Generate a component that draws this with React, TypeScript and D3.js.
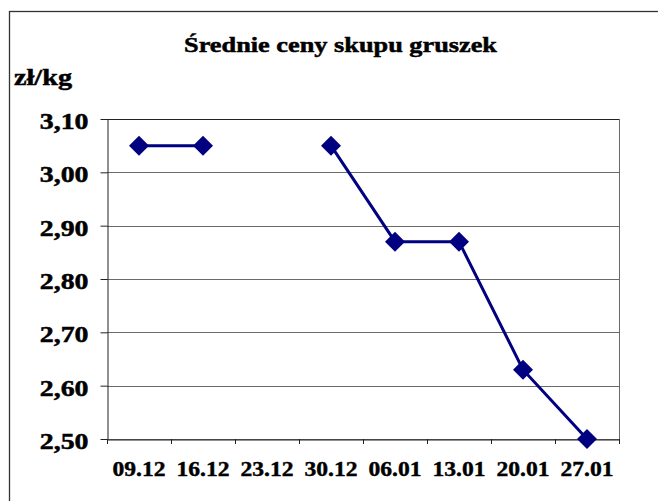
import { useEffect, useRef } from 'react';
import * as d3 from 'd3';

const title = 'Średnie ceny skupu gruszek';
const unitLabel = 'zł/kg';
const weeks = ['09.12', '16.12', '23.12', '30.12', '06.01', '13.01', '20.01', '27.01'];
const prices: (number | null)[] = [3.05, 3.05, null, 3.05, 2.87, 2.87, 2.63, 2.5];
const yTicks = [2.5, 2.6, 2.7, 2.8, 2.9, 3.0, 3.1];

// the original text is a bit wider than Liberation Serif, so stretch it sideways
const stretch = (sel: d3.Selection<any, any, any, any>, k: number) => {
    sel.each(function () {
        const t = this as SVGTextElement;
        const len = t.getComputedTextLength();
        d3.select(t)
            .attr('textLength', len * k)
            .attr('lengthAdjust', 'spacingAndGlyphs');
    });
};

export default function App() {
    const svgRef = useRef<SVGSVGElement>(null);

    useEffect(() => {
        const svg = d3.select(svgRef.current);
        svg.selectAll('*').remove();

        const width = 658;
        const height = 501;
        const plot = { left: 107, right: 619, top: 119, bottom: 439 };
        const font = 'Liberation Serif';

        // outer frame, runs off the page on the right and bottom
        svg.append('rect')
            .attr('x', 9.5)
            .attr('y', 11.5)
            .attr('width', width)
            .attr('height', height)
            .attr('fill', 'white')
            .attr('stroke', '#333')
            .attr('stroke-width', 1.3);

        const x = d3.scaleBand<string>()
            .domain(weeks)
            .range([plot.left, plot.right]);

        const y = d3.scaleLinear()
            .domain([2.5, 3.1])
            .range([plot.bottom, plot.top]);

        // grid
        svg.append('g')
            .selectAll('line')
            .data(yTicks)
            .join('line')
            .attr('x1', plot.left)
            .attr('x2', plot.right)
            .attr('y1', (d) => Math.round(y(d)) + 0.5)
            .attr('y2', (d) => Math.round(y(d)) + 0.5)
            .attr('stroke', (d) => (d === 3.1 ? '#222' : '#6a6a6a'))
            .attr('stroke-width', 1);

        // right edge of plot area
        svg.append('line')
            .attr('x1', plot.right + 0.5)
            .attr('x2', plot.right + 0.5)
            .attr('y1', plot.top)
            .attr('y2', plot.bottom)
            .attr('stroke', '#6a6a6a');

        // y axis
        const yAxis = svg.append('g')
            .attr('transform', `translate(${plot.left + 0.5},0)`)
            .call(d3.axisLeft(y).tickValues(yTicks).tickSize(7).tickSizeOuter(0).tickFormat((d) => d3.format('.2f')(+d).replace('.', ',')));
        yAxis.attr('font-family', font).attr('font-size', 24).attr('font-weight', 'bold');
        yAxis.select('.domain').attr('stroke', '#222');
        yAxis.selectAll('.tick line').attr('stroke', '#222');
        yAxis.selectAll('.tick text')
            .attr('x', -19)
            .attr('dy', '0.4em')
            .attr('fill', '#000')
            .attr('stroke', '#000')
            .attr('stroke-width', 0.5);
        stretch(yAxis.selectAll('.tick text'), 1.16);

        // x axis
        const xAxis = svg.append('g')
            .attr('transform', `translate(0,${plot.bottom + 0.5})`)
            .call(d3.axisBottom(x).tickSize(0).tickSizeOuter(0));
        xAxis.attr('font-family', font).attr('font-size', 20).attr('font-weight', 'bold');
        xAxis.select('.domain').attr('stroke', '#222');
        xAxis.selectAll('.tick text')
            .attr('y', 36.5)
            .attr('dy', 0)
            .attr('fill', '#000')
            .attr('stroke', '#000')
            .attr('stroke-width', 0.4);
        stretch(xAxis.selectAll('.tick text'), 1.18);

        // ticks between categories
        svg.append('g')
            .selectAll('line')
            .data([...weeks.map((w) => x(w) as number), plot.right])
            .join('line')
            .attr('x1', (d) => Math.round(d) + 0.5)
            .attr('x2', (d) => Math.round(d) + 0.5)
            .attr('y1', plot.bottom)
            .attr('y2', plot.bottom + 5)
            .attr('stroke', '#222');

        // series
        const pts = weeks.map((w, i) => ({ w, v: prices[i] }));
        const line = d3.line<{ w: string; v: number | null }>()
            .defined((d) => d.v !== null)
            .x((d) => (x(d.w) as number) + x.bandwidth() / 2)
            .y((d) => y(d.v as number));

        svg.append('path')
            .datum(pts)
            .attr('d', line)
            .attr('fill', 'none')
            .attr('stroke', '#000080')
            .attr('stroke-width', 3);

        svg.append('g')
            .selectAll('path')
            .data(pts.filter((d) => d.v !== null))
            .join('path')
            .attr('d', d3.symbol(d3.symbolSquare, 200))
            .attr('transform', (d) => `translate(${(x(d.w) as number) + x.bandwidth() / 2},${y(d.v as number)}) rotate(45)`)
            .attr('fill', '#000080');

        // title and unit
        svg.append('text')
            .attr('x', 340.5)
            .attr('y', 52)
            .attr('text-anchor', 'middle')
            .attr('font-family', font)
            .attr('font-weight', 'bold')
            .attr('font-size', 22)
            .attr('stroke', '#000')
            .attr('stroke-width', 0.5)
            .attr('textLength', 313)
            .attr('lengthAdjust', 'spacingAndGlyphs')
            .text(title);

        svg.append('text')
            .attr('x', 14)
            .attr('y', 85)
            .attr('font-family', font)
            .attr('font-weight', 'bold')
            .attr('font-size', 23)
            .attr('stroke', '#000')
            .attr('stroke-width', 0.5)
            .attr('textLength', 58)
            .attr('lengthAdjust', 'spacingAndGlyphs')
            .text(unitLabel);
    }, []);

    return (
        <svg
            ref={svgRef}
            width={658}
            height={501}
            style={{ position: 'absolute', left: 0, top: 0, background: 'white' }}
        />
    );
}
